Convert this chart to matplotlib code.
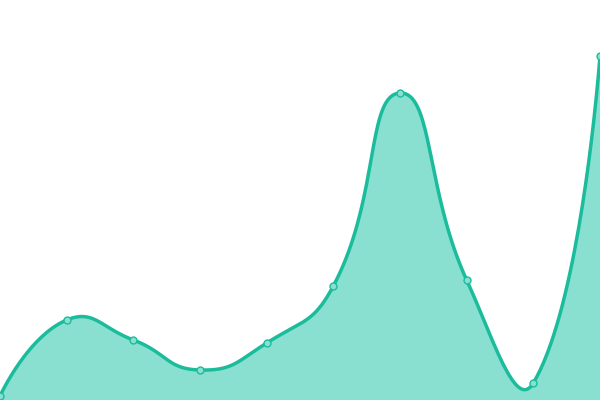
import numpy as np
import matplotlib
matplotlib.use("Agg")
import matplotlib.pyplot as plt

categories = list(range(10))
values = [4, 80, 60, 30, 57, 114, 307, 120, 17, 344]

line_color = "#1abc9c"
fill_color = "#8ae0d0"


def smooth_path(px, py, smooth=0.5, n=40):
    """ECharts-like bezier smoothing, computed in display space."""
    N = len(px)
    outx, outy = [px[0]], [py[0]]
    cp0x, cp0y = px[0], py[0]
    for k in range(1, N):
        x, y = px[k], py[k]
        prevX, prevY = px[k - 1], py[k - 1]
        if k + 1 >= N:
            ncx, ncy = x, y
            vx = vy = 0.0
            ratio = 0.5
        else:
            nx, ny = px[k + 1], py[k + 1]
            vx, vy = nx - prevX, ny - prevY
            lp = np.hypot(x - prevX, y - prevY)
            ln = np.hypot(nx - x, ny - y)
            ratio = ln / (ln + lp)
            ncx = x - vx * smooth * (1 - ratio)
            ncy = y - vy * smooth * (1 - ratio)
        t = np.linspace(0, 1, n)[1:]
        a = (1 - t) ** 3
        b = 3 * (1 - t) ** 2 * t
        c = 3 * (1 - t) * t ** 2
        d = t ** 3
        outx.extend(a * prevX + b * cp0x + c * ncx + d * x)
        outy.extend(a * prevY + b * cp0y + c * ncy + d * y)
        cp0x = x + vx * smooth * ratio
        cp0y = y + vy * smooth * ratio
    return np.array(outx), np.array(outy)


fig = plt.figure(figsize=(6, 4), dpi=100)
ax = fig.add_axes([0, 0, 1, 1])
ax.set_xlim(0, 9)
ax.set_ylim(0, 400)
ax.axis("off")

disp = ax.transData.transform(np.column_stack([categories, values]))
dx, dy = smooth_path(disp[:, 0], disp[:, 1])
curve = ax.transData.inverted().transform(np.column_stack([dx, dy]))
sx, sy = curve[:, 0], curve[:, 1]

ax.fill_between(sx, sy, 0, color=fill_color, lw=0)
ax.plot(sx, sy, color=line_color, lw=2.5, solid_capstyle="round")
ax.plot(categories, values, "o", ms=5, mfc=fill_color, mec=line_color, mew=1)
fig.savefig("out.png", dpi=100)
